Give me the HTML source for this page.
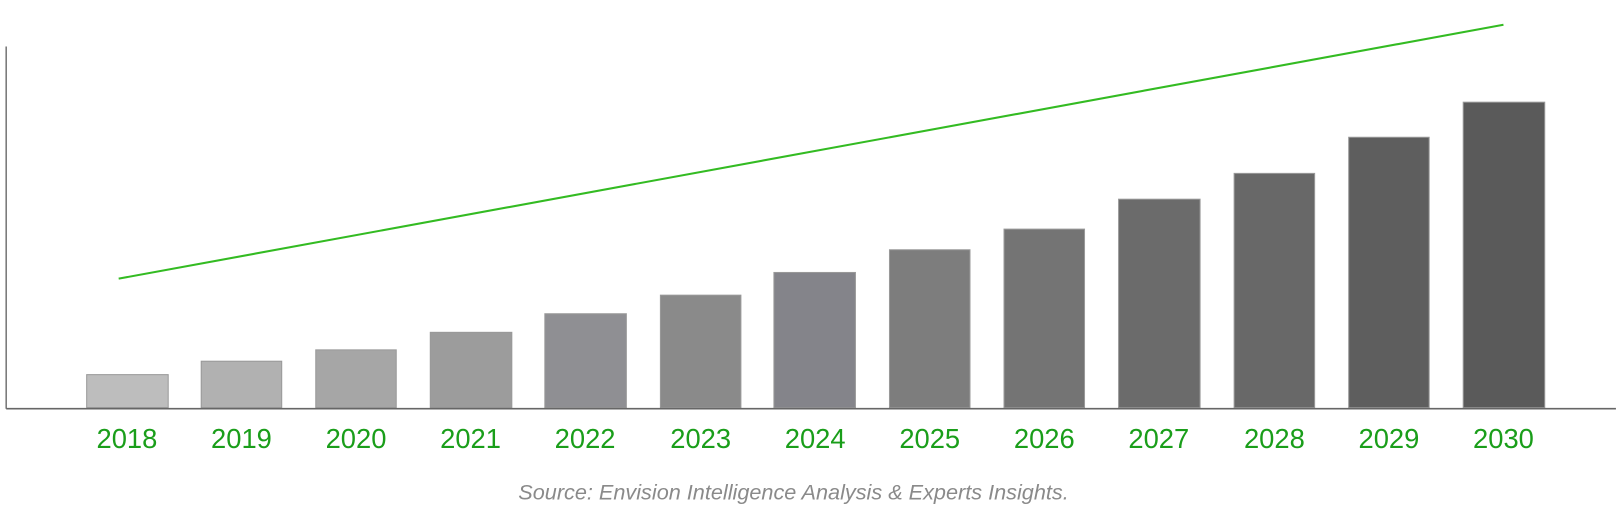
<!DOCTYPE html>
<html><head><meta charset="utf-8"><style>
html,body{margin:0;padding:0;background:#fff;}
</style></head><body>
<svg width="1618" height="515" viewBox="0 0 1568 499" preserveAspectRatio="none" xmlns="http://www.w3.org/2000/svg" style="display:block">
<line x1="6" y1="45" x2="6" y2="396" stroke="#777" stroke-width="1.5"/>
<g stroke="#999" stroke-width="1">
<rect x="84" y="363" width="79" height="32" fill="#bdbdbd"/>
<rect x="195" y="350" width="78" height="45" fill="#b1b1b1"/>
<rect x="306" y="339" width="78" height="56" fill="#a6a6a6"/>
<rect x="417" y="322" width="79" height="73" fill="#9c9c9c"/>
<rect x="528" y="304" width="79" height="91" fill="#8f8f93"/>
<rect x="640" y="286" width="78" height="109" fill="#8a8a8a"/>
<rect x="750" y="264" width="79" height="131" fill="#84848a"/>
<rect x="862" y="242" width="78" height="153" fill="#7d7d7d"/>
<rect x="973" y="222" width="78" height="173" fill="#747474"/>
<rect x="1084" y="193" width="79" height="202" fill="#6b6b6b"/>
<rect x="1196" y="168" width="78" height="227" fill="#686868"/>
<rect x="1307" y="133" width="78" height="262" fill="#5e5e5e"/>
<rect x="1418" y="99" width="79" height="296" fill="#5a5a5a"/>
</g>
<line x1="6" y1="396" x2="1566" y2="396" stroke="#666" stroke-width="1.5"/>
<line x1="115" y1="270" x2="1457" y2="24" stroke="#33bb22" stroke-width="2"/>
<g font-family="Liberation Sans, sans-serif" font-size="26.5" fill="#1a9e1a" text-anchor="middle">
<text x="123" y="434">2018</text><text x="234" y="434">2019</text><text x="345" y="434">2020</text>
<text x="456" y="434">2021</text><text x="567" y="434">2022</text><text x="679" y="434">2023</text>
<text x="790" y="434">2024</text><text x="901" y="434">2025</text><text x="1012" y="434">2026</text>
<text x="1123" y="434">2027</text><text x="1235" y="434">2028</text><text x="1346" y="434">2029</text>
<text x="1457" y="434">2030</text>
</g>
<text x="769" y="484" font-family="Liberation Sans, sans-serif" font-style="italic" font-size="21" fill="#8a8a8a" text-anchor="middle">Source: Envision Intelligence Analysis &amp; Experts Insights.</text>
</svg>
</body></html>
